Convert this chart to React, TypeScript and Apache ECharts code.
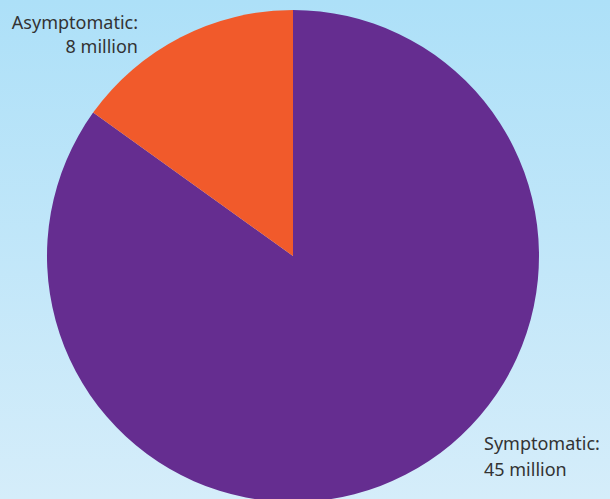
import React, { useEffect, useRef } from "react";
import * as echarts from "echarts";

const categories = ["Symptomatic", "Asymptomatic"];
const valuesMillion = [45, 8];
const colors = ["#652d90", "#f15a2b"];

export default function App() {
  const ref = useRef<HTMLDivElement>(null);
  useEffect(() => {
    if (!ref.current) return;
    const chart = echarts.init(ref.current, undefined, { renderer: "svg" });
    const font = "18px 'Noto Sans', 'Open Sans', sans-serif";
    const txt = (s: string, x: number, y: number, align: string) => ({
      type: "text",
      x,
      y,
      style: { text: s, fill: "#333333", font, align, verticalAlign: "middle" },
    });
    chart.setOption({
      animation: false,
      backgroundColor: new echarts.graphic.LinearGradient(0, 0, 0, 1, [
        { offset: 0, color: "#ade0f8" },
        { offset: 1, color: "#d5edfa" },
      ]),
      series: [
        {
          type: "pie",
          center: [293, 256],
          radius: 246,
          startAngle: 90,
          clockwise: true,
          label: { show: false },
          labelLine: { show: false },
          itemStyle: { borderWidth: 0 },
          emphasis: { disabled: true },
          data: categories.map((c, i) => ({
            name: c,
            value: valuesMillion[i],
            itemStyle: { color: colors[i] },
          })),
        },
      ],
      graphic: [
        txt(`${categories[1]}:`, 138, 22, "right"),
        txt(`${valuesMillion[1]} million`, 138, 46, "right"),
        txt(`${categories[0]}:`, 484, 443, "left"),
        txt(`${valuesMillion[0]} million`, 484, 469, "left"),
      ],
    });
    return () => chart.dispose();
  }, []);
  return (
    <div
      ref={ref}
      style={{ position: "absolute", left: 0, top: 0, width: 610, height: 499 }}
    />
  );
}
